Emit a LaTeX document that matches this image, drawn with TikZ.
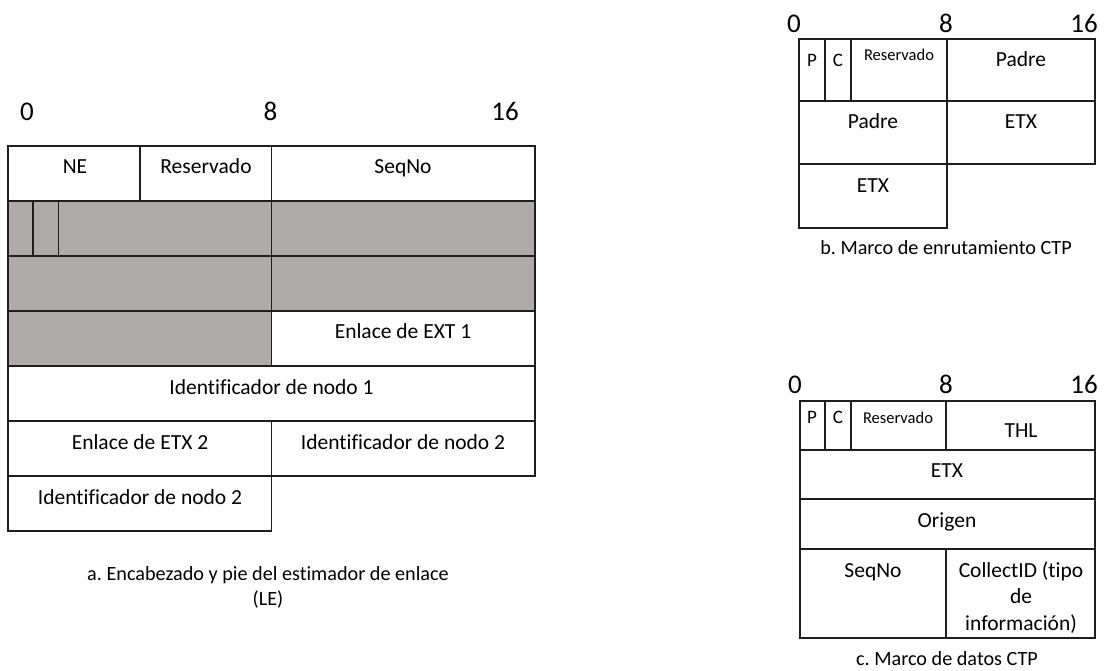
\documentclass[tikz,border=0pt]{standalone}
\usepackage{fontspec}
\setmainfont{Carlito}[Ligatures=CommonOff]
\frenchspacing
\definecolor{cellgray}{RGB}{174,170,169}
\definecolor{linec}{RGB}{30,30,30}
\begin{document}
\begin{tikzpicture}[x=1pt,y=-1pt,
  grid/.style={draw=linec,line width=1.2pt},
  txt/.style={anchor=base,inner sep=0pt,font=\fontsize{21.5}{25}\selectfont,text=black},
  smalltxt/.style={anchor=base,inner sep=0pt,font=\fontsize{16.5}{20}\selectfont,text=black},
  pctxt/.style={anchor=base,inner sep=0pt,font=\fontsize{19}{22}\selectfont,text=black},
  numtxt/.style={anchor=base,inner sep=0pt,font=\fontsize{27}{30}\selectfont,text=black},
  captxt/.style={anchor=base,inner sep=0pt,font=\fontsize{20.2}{25}\selectfont,text=black,align=center}]
\useasboundingbox (0,0) rectangle (1104,670);
\fill[white] (0,0) rectangle (1104,670);

% ---------- a. left diagram ----------
\fill[cellgray] (8,201) rectangle (535,311);
\fill[cellgray] (8,311) rectangle (271.5,366);
\draw[grid] (8,146) rectangle (535,476);
\draw[grid] (8,476) rectangle (271.5,531);
\foreach \yy in {201,256,311,366,421} \draw[grid] (8,\yy) -- (535,\yy);
\draw[grid] (271.5,146) -- (271.5,366);
\draw[grid] (271.5,421) -- (271.5,476);
\draw[grid] (140,146) -- (140,201);
\draw[grid] (33,201) -- (33,256);
\draw[grid] (58.5,201) -- (58.5,256);

\node[numtxt] (a0) at (27,120) {0};
\node[numtxt] (a8) at (270.5,120) {8};
\node[numtxt] (a16) at (505,120) {16};

\node[txt] (ane) at (75,173) {NE};
\node[txt] (ares) at (206,173) {Reservado};
\node[txt] (aseq) at (403,173) {SeqNo};
\node[txt] (aext) at (403,338) {Enlace de EXT 1};
\node[txt] (aid1) at (271.5,394) {Identificador de nodo 1};
\node[txt] (aetx2) at (140,449) {Enlace de ETX 2};
\node[txt] (aid2r) at (403,449) {Identificador de nodo 2};
\node[txt] (aid2l) at (140,504) {Identificador de nodo 2};
\node[captxt] (acap) at (268,580) {a. Encabezado y pie del estimador de enlace};
\node[captxt] (acap2) at (268,605) {(LE)};

% ---------- b. right top diagram ----------
\draw[grid] (799,39) rectangle (1095,164);
\draw[grid] (799,164) rectangle (947,228);
\draw[grid] (799,101) -- (1095,101);
\draw[grid] (947,39) -- (947,164);
\draw[grid] (825,39) -- (825,101);
\draw[grid] (851,39) -- (851,101);

\node[numtxt] (b0) at (794,32) {0};
\node[numtxt] (b8) at (946,32) {8};
\node[numtxt] (b16) at (1084,32) {16};

\node[pctxt] (bp) at (812,66) {P};
\node[pctxt] (bc) at (838,66) {C};
\node[smalltxt] (bres) at (899,60) {Reservado};
\node[txt] (bpad1) at (1021,66) {Padre};
\node[txt] (bpad2) at (873,128) {Padre};
\node[txt] (betx1) at (1021,128) {ETX};
\node[txt] (betx2) at (873,192) {ETX};
\node[captxt] (bcap) at (946,254) {b. Marco de enrutamiento CTP};

% ---------- c. right bottom diagram ----------
\draw[grid] (800,401) rectangle (1095,638);
\foreach \yy in {450,499,549} \draw[grid] (800,\yy) -- (1095,\yy);
\draw[grid] (946,401) -- (946,450);
\draw[grid] (946,549) -- (946,638);
\draw[grid] (825,401) -- (825,450);
\draw[grid] (851,401) -- (851,450);

\node[numtxt] (c0) at (795,393) {0};
\node[numtxt] (c8) at (946,393) {8};
\node[numtxt] (c16) at (1084,393) {16};

\node[pctxt] (cp) at (812,423) {P};
\node[pctxt] (cc) at (838,423) {C};
\node[smalltxt] (cres) at (898,423) {Reservado};
\node[txt] (cthl) at (1021,437) {THL};
\node[txt] (cetx) at (947,477) {ETX};
\node[txt] (corig) at (947,527) {Origen};
\node[txt] (cseq) at (873,577) {SeqNo};
\node[txt] (ccol1) at (1021,577) {CollectID (tipo};
\node[txt] (ccol2) at (1021,603) {de};
\node[txt] (ccol3) at (1021,630) {información)};
\node[captxt] (ccap) at (947,665) {c. Marco de datos CTP};
\end{tikzpicture}
\end{document}
